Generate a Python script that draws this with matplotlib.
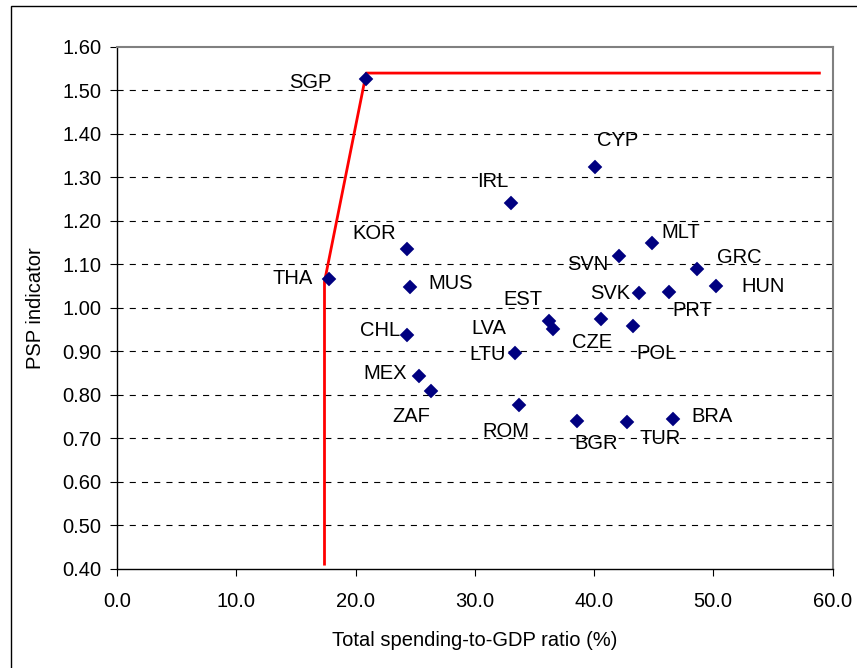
import matplotlib
matplotlib.use("Agg")
import matplotlib.pyplot as plt
from matplotlib.patches import Rectangle

plt.rcParams['font.family'] = ['Liberation Sans', 'DejaVu Sans']

countries = ["SGP", "CYP", "IRL", "KOR", "THA", "MUS", "MLT", "SVN", "GRC", "HUN",
             "SVK", "PRT", "EST", "CZE", "LVA", "POL", "CHL", "LTU", "MEX", "ZAF",
             "ROM", "BGR", "TUR", "BRA"]
spending = [20.9, 40.1, 33.0, 24.3, 17.8, 24.6, 44.9, 42.1, 48.6, 50.2,
            43.8, 46.3, 36.2, 40.6, 36.6, 43.3, 24.3, 33.4, 25.3, 26.3,
            33.7, 38.6, 42.8, 46.6]
psp = [1.526, 1.324, 1.242, 1.135, 1.066, 1.048, 1.150, 1.119, 1.090, 1.050,
       1.033, 1.036, 0.970, 0.975, 0.952, 0.957, 0.938, 0.897, 0.842, 0.808,
       0.777, 0.739, 0.736, 0.744]
# label offsets (pixels) relative to each point
label_dx = [-56, 22, -18, -33, -37, 40, 28, -31, 43, 47,
            -29, 23, -26, -9, -65, 23, -27, -28, -34, -19,
            -13, 19, 33, 39]
label_dy = [-3, 26, 21, 16, 1, 3, 10, -8, 11, 0,
            0, -18, 21, -24, 0, -27, 4, -2, 3, -25,
            -27, -22, -16, 3]

frontier_x = [17.4, 17.4, 20.9, 58.9]
frontier_y = [0.41, 1.06, 1.54, 1.54]

xticks = [0, 10, 20, 30, 40, 50, 60]
yticks = [0.4, 0.5, 0.6, 0.7, 0.8, 0.9, 1.0, 1.1, 1.2, 1.3, 1.4, 1.5, 1.6]

fig = plt.figure(figsize=(8.57, 6.68), dpi=100)
ax = fig.add_axes([117/857, 1 - 568.5/668, (832.5 - 117)/857, (568.5 - 47)/668])

for y in yticks[1:-1]:
    ax.axhline(y, color='black', lw=0.8, dashes=(5.5, 5.5), zorder=1)

ax.plot(frontier_x, frontier_y, color='#ff0000', lw=2.0, zorder=2)
ax.plot(spending, psp, linestyle='none', marker='D', ms=7, color='#000080',
        markeredgewidth=0.3, zorder=3)

for c, x, y, dx, dy in zip(countries, spending, psp, label_dx, label_dy):
    ax.annotate(c, (x, y), xytext=(dx, dy), textcoords='offset pixels',
                ha='center', va='center', fontsize=14.5, color='black', zorder=4)

ax.set_xlim(0, 60)
ax.set_ylim(0.4, 1.6)
ax.set_xticks(xticks)
ax.set_yticks(yticks)
ax.set_xticklabels([f"{v:.1f}" for v in xticks])
ax.set_yticklabels([f"{v:.2f}" for v in yticks])
ax.tick_params(axis='both', labelsize=14.5, direction='out', length=5, width=0.8, color='black')
ax.tick_params(axis='x', pad=12)
ax.tick_params(axis='y', pad=6)

ax.spines['left'].set_color('black')
ax.spines['bottom'].set_color('black')
ax.spines['left'].set_linewidth(1.0)
ax.spines['bottom'].set_linewidth(1.0)
ax.spines['top'].set_color('#808080')
ax.spines['right'].set_color('#808080')
ax.spines['top'].set_linewidth(1.5)
ax.spines['right'].set_linewidth(1.5)

ax.set_xlabel("Total spending-to-GDP ratio (%)", fontsize=14.5, labelpad=14)
ax.set_ylabel("PSP indicator", fontsize=14.5, labelpad=13)

fig.patches.append(Rectangle((11/857, -0.05), 1.0, 1 - 6/668 + 0.05,
                             transform=fig.transFigure, fill=False,
                             edgecolor='black', lw=1.0))

fig.savefig("out.png", dpi=100)
